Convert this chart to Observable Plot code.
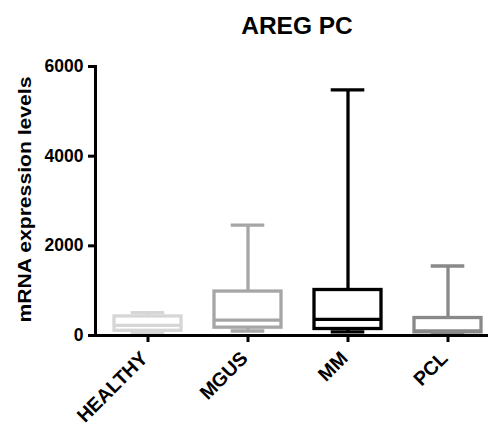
<!DOCTYPE html>
<html>
<head>
<meta charset="utf-8">
<script src="https://cdn.jsdelivr.net/npm/d3@7"></script>
<script src="https://cdn.jsdelivr.net/npm/@observablehq/plot@0.6"></script>
<style>
  html, body { margin: 0; padding: 0; background: #fff; }
</style>
</head>
<body>
<div id="chart"></div>
<script>
const title = "AREG PC";
const yLabel = "mRNA expression levels";
const categories = ["HEALTHY", "MGUS", "MM", "PCL"];
const minVals = [50, 100, 80, 20];
const q1Vals = [105, 175, 145, 70];
const medianVals = [225, 345, 360, 100];
const q3Vals = [425, 980, 1015, 390];
const maxVals = [510, 2460, 5480, 1550];
const colors = ["#d6d6d6", "#a6a6a6", "#000000", "#898989"];
const yTicks = [0, 2000, 4000, 6000];

const rows = categories.map((c, i) => ({
  cat: c, min: minVals[i], q1: q1Vals[i], median: medianVals[i],
  q3: q3Vals[i], max: maxVals[i], color: colors[i]
}));

const SW = 3.3;
const capInset = 16.7;

const chart = Plot.plot({
  width: 495,
  height: 427,
  marginLeft: 95,
  marginRight: 7,
  marginTop: 66,
  marginBottom: 92,
  style: { fontFamily: "'Liberation Sans', Arial, sans-serif", fontWeight: "bold", color: "#000", background: "#fff" },
  x: { type: "band", domain: categories, range: [97, 498], paddingInner: 0.33, paddingOuter: 0.165 },
  y: { domain: [0, 6000] },
  color: { type: "identity" },
  marks: [
    Plot.ruleX(rows, { x: "cat", y1: "q3", y2: "max", stroke: "color", strokeWidth: SW }),
    Plot.ruleX(rows, { x: "cat", y1: "q1", y2: "min", stroke: "color", strokeWidth: SW }),
    Plot.barY(rows, { x: "cat", y1: "q1", y2: "q3", fill: "white", stroke: "color", strokeWidth: SW }),
    Plot.tickY(rows, { x: "cat", y: "median", stroke: "color", strokeWidth: SW }),
    Plot.tickY(rows, { x: "cat", y: "max", stroke: "color", strokeWidth: SW, insetLeft: capInset, insetRight: capInset }),
    Plot.tickY(rows, { x: "cat", y: "min", stroke: "color", strokeWidth: SW, insetLeft: capInset, insetRight: capInset }),
    Plot.ruleY([0], { stroke: "#000", strokeWidth: 3 }),
    Plot.frame({ anchor: "left", stroke: "#000", strokeWidth: 3 }),
    Plot.axisY({ ticks: yTicks, tickFormat: d => `${d}`, tickSize: 7, tickPadding: 5, strokeWidth: 3, fontSize: 17.5, label: null }),
    Plot.axisX({ tickSize: 7, strokeWidth: 3, tickFormat: () => "", label: null }),
    Plot.text(categories, { x: d => d, frameAnchor: "bottom", text: d => d, rotate: -45, textAnchor: "end", lineAnchor: "bottom", dx: 1, dy: 24, fontSize: 19.5, fontWeight: "bold", fill: "#000" }),
    Plot.text([yLabel], { frameAnchor: "left", text: d => d, rotate: -90, textAnchor: "middle", lineAnchor: "bottom", dx: -65, dy: -1.5, fontSize: 19, fontWeight: "bold", fill: "#000" }),
    Plot.text([title], { frameAnchor: "top", text: d => d, textAnchor: "middle", lineAnchor: "bottom", dx: 5, dy: -33, fontSize: 24.5, fontWeight: "bold", fill: "#000" })
  ]
});

d3.select(chart).selectAll("text")
  .filter(function () { return this.textContent === yLabel; })
  .attr("textLength", 246)
  .attr("lengthAdjust", "spacingAndGlyphs");

document.getElementById("chart").appendChild(chart);
</script>
</body>
</html>
